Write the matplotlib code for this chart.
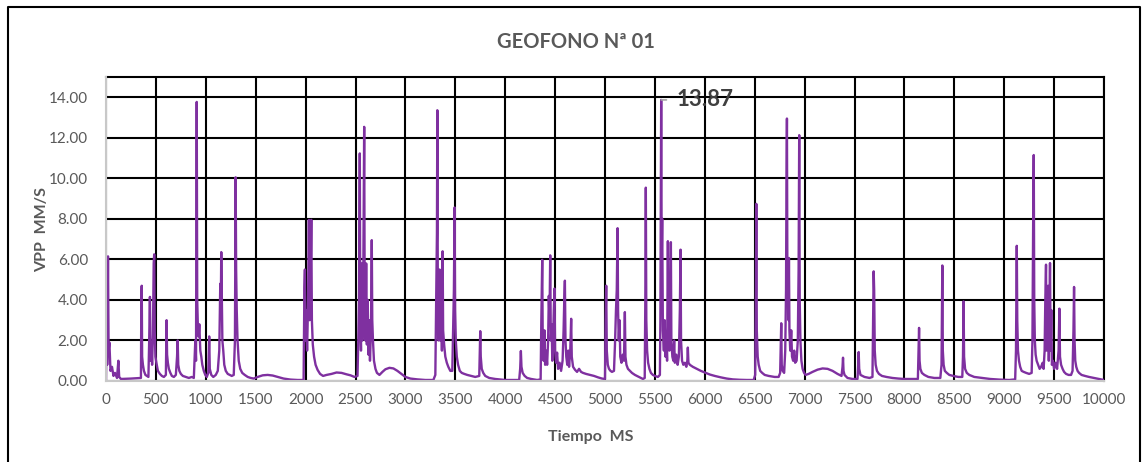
import matplotlib
matplotlib.use("Agg")
import matplotlib.pyplot as plt
from matplotlib.lines import Line2D

plt.rcParams['font.family'] = ['Lato', 'DejaVu Sans']

# Geofono 01: velocidad pico (mm/s) contra tiempo (ms)
tiempo_ms = [
    0, 8, 12, 20, 26, 34, 45, 60, 75, 90, 110, 124, 132, 150, 250, 350, 354, 358, 362, 370,
    380, 395, 410, 425, 432, 440, 446, 455, 462, 470, 478, 483, 488, 495, 505, 520, 540, 560, 580, 600,
    607, 612, 620, 630, 645, 660, 680, 700, 712, 718, 724, 735, 750, 770, 800, 830, 860, 880, 895, 902,
    909, 914, 920, 928, 935, 945, 955, 965, 980, 995, 1010, 1025, 1034, 1040, 1055, 1075, 1100, 1120, 1135, 1145,
    1150, 1155, 1160, 1166, 1175, 1185, 1200, 1220, 1240, 1260, 1280, 1292, 1299, 1304, 1310, 1318, 1330, 1345, 1365, 1390,
    1420, 1450, 1480, 1520, 1570, 1620, 1670, 1720, 1780, 1850, 1920, 1980,
    1988, 1993, 1998, 2005, 2015, 2025, 2033, 2040, 2050, 2057, 2063, 2072, 2085, 2100, 2120, 2145, 2175, 2210, 2260, 2310,
    2360, 2410, 2450, 2490, 2520, 2528, 2535, 2543, 2548, 2555, 2562, 2568, 2576, 2587, 2592, 2600, 2607, 2614, 2622, 2630,
    2638, 2645, 2655, 2663, 2668, 2675, 2685, 2700, 2715, 2740, 2770, 2800, 2840, 2880, 2920, 2960, 3000, 3050, 3120, 3200,
    3280, 3300, 3310, 3316, 3320, 3325, 3333, 3342, 3350, 3358, 3366, 3373, 3378, 3388, 3400, 3415, 3430, 3450, 3470, 3480,
    3486, 3493, 3498, 3505, 3515, 3528, 3545, 3565, 3590, 3620, 3660, 3700, 3740, 3746, 3750, 3755, 3765, 3780, 3800, 3840,
    3900, 3960, 4000,
    4140, 4150, 4157, 4163, 4175, 4195, 4220, 4260, 4320, 4355, 4362, 4371, 4376, 4385, 4393, 4400, 4410, 4420, 4430, 4437,
    4444, 4451, 4457, 4465, 4472, 4480, 4487, 4494, 4500, 4510, 4520, 4530, 4545, 4560, 4575, 4585, 4592, 4598, 4604, 4612,
    4622, 4632, 4640, 4652, 4661, 4667, 4680, 4700, 4720, 4740, 4760, 4780, 4810, 4850, 4890, 4930, 4970, 5000, 5006, 5012,
    5018, 5028, 5040, 5055, 5070, 5090, 5100, 5110, 5118, 5126, 5131, 5138, 5146, 5153, 5165, 5178, 5190, 5199, 5205, 5215,
    5230, 5250, 5270, 5300, 5340, 5380, 5398, 5404, 5409, 5414, 5422, 5432, 5445, 5460, 5480, 5500, 5530, 5550, 5555, 5563,
    5568, 5573, 5580, 5590, 5598, 5606, 5615, 5622, 5630, 5636, 5645, 5652, 5660, 5665, 5675, 5685, 5693, 5700, 5715, 5728,
    5740, 5750, 5757, 5762, 5772, 5785, 5800, 5815, 5825, 5830, 5836, 5850, 5880, 5920, 5960, 6000, 6050, 6100, 6160, 6220,
    6280, 6350, 6420, 6490,
    6505, 6512, 6516, 6521, 6530, 6540, 6555, 6575, 6600, 6640, 6700, 6740, 6755, 6762, 6766, 6771, 6780, 6795, 6806, 6814,
    6818, 6823, 6828, 6834, 6839, 6843, 6848, 6856, 6866, 6874, 6885, 6896, 6905, 6920, 6932, 6940, 6946, 6951, 6958, 6968,
    6980, 6995, 7010, 7040, 7080, 7130, 7180, 7230, 7280, 7330, 7370, 7380, 7385, 7390, 7400, 7430, 7480, 7530, 7537, 7542,
    7547, 7560, 7600, 7650, 7680, 7686, 7692, 7697, 7703, 7712, 7725, 7745, 7775, 7820, 7880, 7940, 8000,
    8135, 8142, 8147, 8152, 8160, 8175, 8200, 8240, 8300, 8360, 8372, 8380, 8385, 8393, 8405, 8425, 8450, 8490, 8540, 8580,
    8587, 8593, 8598, 8608, 8625, 8650, 8700, 8780, 8860, 8950, 9050, 9110, 9118, 9122, 9126, 9131, 9138, 9148, 9160, 9175,
    9195, 9220, 9250, 9275, 9283, 9290, 9296, 9301, 9307, 9315, 9325, 9340, 9355, 9370, 9385, 9395, 9405, 9412, 9419, 9424,
    9432, 9440, 9447, 9452, 9459, 9465, 9472, 9478, 9488, 9500, 9515, 9530, 9545, 9553, 9559, 9570, 9585, 9600, 9620, 9645,
    9670, 9685, 9694, 9700, 9705, 9712, 9722, 9735, 9750, 9775, 9810, 9850, 9900, 9950, 10000,
]
vpp_mm_s = [
    0.05, 4.5, 0.8, 6.15, 1.5, 1.9, 0.5, 0.7, 0.25, 0.4, 0.15, 1.0, 0.2, 0.1, 0.12, 0.15, 3.9, 4.7, 1.2, 0.8,
    0.5, 0.3, 0.25, 0.2, 1.8, 4.15, 1.0, 1.8, 0.8, 2.3, 5.8, 6.25, 2.5, 1.2, 0.9, 0.5, 0.35, 0.25, 0.2, 0.3,
    3.0, 1.3, 0.9, 0.6, 0.4, 0.25, 0.2, 0.3, 1.2, 2.0, 0.8, 0.5, 0.35, 0.25, 0.2, 0.15, 0.2, 0.15, 2.0, 1.0,
    13.77, 4.0, 2.8, 2.2, 2.8, 1.5, 1.2, 0.8, 0.5, 0.3, 0.2, 0.4, 2.2, 0.6, 0.3, 0.2, 0.3, 0.5, 1.5, 4.8,
    3.5, 6.36, 4.5, 2.0, 1.5, 0.8, 0.5, 0.35, 0.3, 0.25, 0.3, 2.0, 10.05, 5.5, 3.5, 2.0, 1.0, 0.6, 0.4, 0.3,
    0.2, 0.15, 0.12, 0.2, 0.28, 0.3, 0.27, 0.2, 0.12, 0.07, 0.05, 0.05,
    4.6, 5.5, 2.0, 3.5, 1.5, 4.0, 7.95, 3.0, 5.0, 7.95, 3.0, 1.8, 1.2, 0.8, 0.55, 0.35, 0.25, 0.3, 0.35, 0.42,
    0.4, 0.33, 0.28, 0.2, 0.25, 2.0, 4.0, 11.23, 3.0, 1.5, 5.8, 2.0, 3.5, 12.54, 4.0, 2.0, 5.8, 1.8, 4.0, 1.3,
    3.0, 1.0, 2.5, 6.95, 3.0, 2.0, 1.0, 0.6, 0.4, 0.3, 0.45, 0.58, 0.65, 0.62, 0.5, 0.35, 0.2, 0.12, 0.08, 0.05,
    0.05, 0.3, 5.0, 7.3, 13.36, 4.0, 2.0, 5.5, 2.0, 3.5, 1.5, 6.4, 2.5, 1.8, 1.2, 0.9, 0.7, 0.5, 0.5, 3.0,
    4.5, 8.56, 3.5, 2.0, 1.2, 0.8, 0.5, 0.4, 0.35, 0.3, 0.25, 0.2, 0.25, 1.6, 2.46, 1.2, 0.6, 0.4, 0.25, 0.15,
    0.1, 0.07, 0.05,
    0.05, 0.6, 1.48, 0.7, 0.4, 0.25, 0.15, 0.1, 0.05, 0.08, 3.0, 5.98, 2.0, 1.0, 2.5, 0.8, 1.5, 0.8, 2.0, 4.2,
    3.0, 6.2, 2.0, 2.8, 1.0, 2.0, 3.5, 4.56, 1.5, 0.9, 1.4, 0.6, 0.9, 0.5, 1.0, 2.5, 4.0, 4.95, 2.0, 1.2,
    0.8, 1.5, 0.7, 1.5, 3.07, 1.2, 0.7, 0.55, 0.45, 0.6, 0.45, 0.4, 0.35, 0.3, 0.25, 0.18, 0.12, 0.1, 3.0, 4.7,
    1.5, 0.8, 0.6, 0.5, 0.45, 0.5, 1.8, 3.5, 4.5, 7.54, 3.5, 2.0, 3.0, 1.2, 0.9, 1.3, 1.0, 3.4, 1.2, 0.8,
    0.6, 0.5, 0.4, 0.3, 0.2, 0.1, 0.15, 4.0, 9.54, 3.0, 1.5, 0.9, 0.6, 0.4, 0.3, 0.25, 0.2, 0.3, 3.0, 13.87,
    6.0, 8.0, 2.5, 1.5, 3.0, 1.2, 2.0, 1.0, 6.9, 2.0, 1.5, 2.5, 6.85, 2.0, 1.2, 1.0, 2.0, 0.9, 1.3, 0.8,
    1.2, 3.5, 6.48, 2.0, 1.0, 0.8, 0.9, 0.7, 1.0, 1.65, 0.9, 0.8, 0.7, 0.6, 0.5, 0.42, 0.32, 0.25, 0.18, 0.12,
    0.08, 0.06, 0.05, 0.05,
    0.3, 4.5, 8.74, 2.5, 1.2, 0.8, 0.5, 0.4, 0.3, 0.25, 0.2, 0.2, 0.4, 2.0, 2.85, 0.8, 0.5, 0.4, 1.5, 4.5,
    9.3, 12.95, 4.0, 5.5, 3.0, 6.07, 2.5, 1.5, 2.5, 1.2, 1.0, 1.5, 0.9, 1.0, 2.0, 5.5, 12.13, 4.0, 2.0, 1.0,
    0.6, 0.4, 0.3, 0.35, 0.45, 0.56, 0.62, 0.6, 0.5, 0.35, 0.25, 0.7, 1.15, 0.5, 0.3, 0.15, 0.1, 0.1, 0.8, 1.43,
    0.6, 0.3, 0.2, 0.15, 0.2, 3.0, 5.41, 4.5, 1.5, 0.8, 0.5, 0.35, 0.25, 0.2, 0.15, 0.12, 0.1,
    0.1, 1.5, 2.62, 1.0, 0.6, 0.4, 0.3, 0.2, 0.15, 0.15, 0.8, 5.7, 1.5, 0.8, 0.5, 0.4, 0.3, 0.25, 0.2, 0.2,
    1.2, 3.93, 1.2, 0.6, 0.4, 0.3, 0.2, 0.15, 0.1, 0.07, 0.05, 0.08, 1.5, 4.3, 6.67, 3.0, 1.5, 1.0, 0.7, 0.5,
    0.45, 0.4, 0.35, 0.4, 2.0, 7.7, 11.15, 4.0, 2.0, 1.3, 1.0, 0.8, 0.6, 0.7, 0.9, 0.6, 1.5, 4.0, 5.74, 1.5,
    3.5, 4.7, 1.0, 3.0, 5.82, 1.5, 3.5, 0.8, 1.0, 0.6, 0.9, 0.6, 1.5, 3.57, 1.2, 0.8, 0.6, 0.45, 0.35, 0.3,
    0.3, 0.5, 2.5, 4.64, 2.0, 1.0, 0.7, 0.5, 0.4, 0.3, 0.25, 0.2, 0.15, 0.1, 0.05,
]
x_ticks = list(range(0, 10001, 500))
y_ticks = [0, 2, 4, 6, 8, 10, 12, 14]
pico_t, pico_v = 5563, 13.87

gris = '#595959'
fig = plt.figure(figsize=(11.42, 4.62), dpi=100)
ax = fig.add_axes([106 / 1142, 1 - 381 / 462, 998 / 1142, 304 / 462])

ax.plot(tiempo_ms, vpp_mm_s, color='#7F30A0', lw=1.7, zorder=3)

ax.set_xlim(0, 10000)
ax.set_ylim(0, 15)
ax.set_xticks(x_ticks)
ax.set_yticks(y_ticks)
ax.set_yticklabels([f'{v:.2f}' for v in y_ticks])
ax.tick_params(length=0, colors=gris, labelsize=11)
ax.tick_params(axis='y', pad=13)
ax.tick_params(axis='x', pad=9)
ax.grid(True, color='black', lw=1.5, zorder=1)
ax.set_axisbelow(True)
for s in ['top', 'right']:
    ax.spines[s].set_color('black')
    ax.spines[s].set_linewidth(1.5)
for s in ['left', 'bottom']:
    ax.spines[s].set_color('#c8c8c8')
    ax.spines[s].set_linewidth(1.5)
    ax.spines[s].set_zorder(4)

ax.annotate(f'{pico_v:.2f}', xy=(pico_t, pico_v), xytext=(15, 0), textcoords='offset pixels',
            ha='left', va='center', fontsize=16, fontweight='bold', color='#404040',
            arrowprops=dict(arrowstyle='-', color='#a6a6a6', lw=1.2, shrinkA=5, shrinkB=0))

fig.text(576 / 1142, 1 - 42 / 462, 'GEOFONO Nª 01', ha='center', va='center',
         fontsize=14.5, fontweight='bold', color=gris)
fig.text(591 / 1142, 1 - 437 / 462, 'Tiempo  MS', ha='center', va='center',
         fontsize=11.5, fontweight='bold', color=gris)
fig.text(42 / 1142, 1 - 229 / 462, 'VPP  MM/S', ha='center', va='center', rotation=90,
         fontsize=11.5, fontweight='bold', color=gris)

# marco exterior del documento
fig.add_artist(Line2D([8 / 1142, 8 / 1142, 1140 / 1142, 1140 / 1142],
                      [0, 1 - 7 / 462, 1 - 7 / 462, 0],
                      transform=fig.transFigure, color='black', lw=1.5))

fig.savefig('out.png', dpi=100)
